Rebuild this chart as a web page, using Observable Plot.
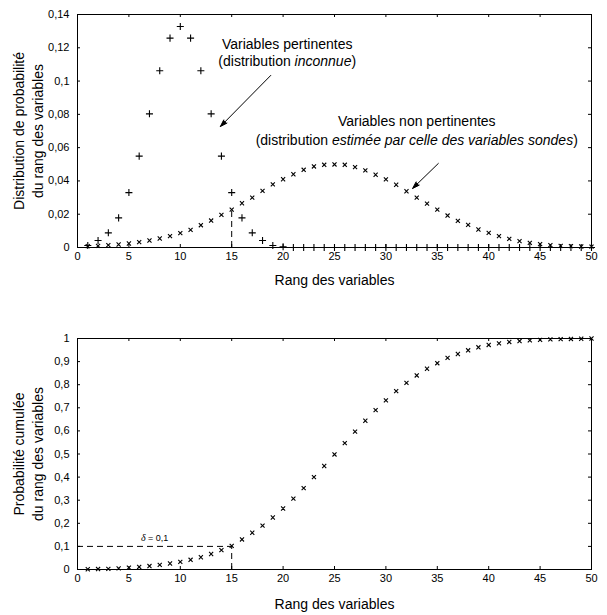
<!DOCTYPE html>
<html><head><meta charset="utf-8">
<script src="https://cdn.jsdelivr.net/npm/d3@7"></script>
<script src="https://cdn.jsdelivr.net/npm/@observablehq/plot@0.6"></script>
<style>body{margin:0;background:#fff;} #chart{width:607px;} svg{display:block;}</style>
</head><body><div id="chart"></div>
<script>
// ---- data ----
const ranks = [1,2,3,4,5,6,7,8,9,10,11,12,13,14,15,16,17,18,19,20,21,22,23,24,25,26,27,28,29,30,31,32,33,34,35,36,37,38,39,40,41,42,43,44,45,46,47,48,49,50];
const pertinent = [0.0012,0.0042,0.0088,0.0178,0.033,0.0549,0.0803,0.1062,0.1258,0.1328,0.1258,0.1062,0.0803,0.0549,0.033,0.0178,0.0088,0.0042,0.0012,0.0004,0,0,0,0,0,0,0,0,0,0,0,0,0,0,0,0,0,0,0,0,0,0,0,0,0,0,0,0,0,0];
const nonPertinent = [0.0008,0.001,0.0014,0.0018,0.0024,0.0032,0.0042,0.0054,0.0068,0.0086,0.0106,0.0134,0.0162,0.0196,0.0228,0.0266,0.030,0.034,0.0379,0.041,0.044,0.0467,0.0487,0.0497,0.0499,0.0497,0.0483,0.0463,0.0437,0.0409,0.0377,0.0338,0.030,0.0264,0.0228,0.0192,0.016,0.0136,0.0108,0.0088,0.0068,0.0052,0.0038,0.0028,0.002,0.0014,0.001,0.0008,0.0006,0.0005];
const cumulative = [0.001,0.002,0.003,0.005,0.008,0.011,0.015,0.02,0.026,0.033,0.042,0.053,0.067,0.084,0.102,0.13,0.159,0.19,0.225,0.264,0.307,0.352,0.4,0.448,0.498,0.547,0.597,0.644,0.69,0.732,0.772,0.808,0.84,0.869,0.893,0.916,0.933,0.949,0.962,0.972,0.979,0.985,0.989,0.992,0.994,0.996,0.997,0.998,0.999,1.0];
const xTicks = [0,5,10,15,20,25,30,35,40,45,50];
const yTicksTop = [0,0.02,0.04,0.06,0.08,0.1,0.12,0.14];
const yTicksBottom = [0,0.1,0.2,0.3,0.4,0.5,0.6,0.7,0.8,0.9,1];
const thresholdRank = 15;
const delta = 0.1;
const xLabel = "Rang des variables";
const yLabelTop = "Distribution de probabilité\ndu rang des variables";
const yLabelBottom = "Probabilité cumulée\ndu rang des variables";

// ---- layout ----
const font = "'Liberation Sans', Arial, Helvetica, sans-serif";
const W = 607, mL = 77, mR = 16;
const innerW = W - mL - mR;
const labelSize = 14;
const fr = v => String(+(+v).toFixed(2)).replace(".", ",");
const topRows = pertinent.map((v, i) => ({rank: ranks[i], pert: v, non: nonPertinent[i]}));
const bottomRows = cumulative.map((v, i) => ({rank: ranks[i], cum: v}));

function frameParts(yTicks, innerH, dyLabel, yLabel) {
  return [
    Plot.frame({stroke: "black", strokeWidth: 1}),
    Plot.tickX(xTicks, {x: d => d, insetTop: innerH - 3, stroke: "black"}),
    Plot.tickX(xTicks, {x: d => d, insetBottom: innerH - 3, stroke: "black"}),
    Plot.tickY(yTicks, {y: d => d, insetLeft: innerW - 3, stroke: "black"}),
    Plot.tickY(yTicks, {y: d => d, insetRight: innerW - 3, stroke: "black"}),
    Plot.axisX({ticks: xTicks, tickSize: 0, tickPadding: 5, tickFormat: d => String(d), label: null, fontSize: 11, fill: "black"}),
    Plot.axisY({ticks: yTicks, tickSize: 0, tickPadding: 8, tickFormat: fr, label: null, fontSize: 11, fill: "black"}),
    Plot.text([xLabel], {frameAnchor: "bottom", dy: dyLabel, textAnchor: "middle", lineAnchor: "middle", fontSize: labelSize, fill: "black"}),
    Plot.text([yLabel], {frameAnchor: "left", rotate: -90, dx: -50.5, textAnchor: "middle", lineAnchor: "middle", fontSize: labelSize, lineHeight: 1.36, fill: "black"})
  ];
}

const hTop = 290, mTTop = 14, mBTop = 43;
const plotTop = Plot.plot({
  width: W, height: hTop, marginLeft: mL, marginRight: mR, marginTop: mTTop, marginBottom: mBTop,
  style: {fontFamily: font, fontSize: "11px", color: "black", background: "white"},
  x: {domain: [0, 50]},
  y: {domain: [0, 0.14]},
  marks: [
    ...frameParts(yTicksTop, hTop - mTTop - mBTop, 33, yLabelTop),
    Plot.ruleX([thresholdRank], {x: d => d, y1: 0, y2: d => nonPertinent[ranks.indexOf(d)], stroke: "black", strokeDasharray: "6,4"}),
    Plot.dot(topRows, {x: "rank", y: "pert", symbol: "plus", r: 2.4, stroke: "black", strokeWidth: 1.1}),
    Plot.dot(topRows, {x: "rank", y: "non", symbol: "times", r: 2, stroke: "black", strokeWidth: 1.1}),
    Plot.text([
      {x: 20.4, y: 0.122, t: "Variables pertinentes"},
      {x: 20.4, y: 0.1115, t: "(distribution inconnue)"},
      {x: 33, y: 0.0755, t: "Variables non pertinentes"},
      {x: 33, y: 0.0640, t: "(distribution estimée par celle des variables sondes)"}
    ], {x: "x", y: "y", text: "t", fontSize: labelSize, fill: "black"}),
    Plot.arrow([
      {x1: 18.8, y1: 0.1034, x2: 13.9, y2: 0.0727},
      {x1: 35.1, y1: 0.0505, x2: 32.6, y2: 0.0355}
    ], {x1: "x1", y1: "y1", x2: "x2", y2: "y2", stroke: "black", fill: "black", strokeWidth: 1, headLength: 11, headAngle: 36})
  ]
});

const hBot = 325, mTBot = 48, mBBot = 46;
const plotBottom = Plot.plot({
  width: W, height: hBot, marginLeft: mL, marginRight: mR, marginTop: mTBot, marginBottom: mBBot,
  style: {fontFamily: font, fontSize: "11px", color: "black", background: "white"},
  x: {domain: [0, 50]},
  y: {domain: [0, 1]},
  marks: [
    ...frameParts(yTicksBottom, hBot - mTBot - mBBot, 35, yLabelBottom),
    Plot.ruleY([delta], {y: d => d, x1: 0, x2: thresholdRank, stroke: "black", strokeDasharray: "6,4"}),
    Plot.ruleX([thresholdRank], {x: d => d, y1: 0, y2: delta, stroke: "black", strokeDasharray: "6,4"}),
    Plot.dot(bottomRows, {x: "rank", y: "cum", symbol: "times", r: 2, stroke: "black", strokeWidth: 1.1}),
    Plot.text([{x: 7.5, y: 0.135, t: "δ = 0,1"}], {x: "x", y: "y", text: "t", fontSize: 9, fill: "black"})
  ]
});

const chart = document.getElementById("chart");
chart.append(plotTop, plotBottom);

// mixed italic runs
const italicRuns = {
  "(distribution inconnue)": ["(distribution ", "inconnue", ")"],
  "(distribution estimée par celle des variables sondes)": ["(distribution ", "estimée par celle des variables sondes", ")"]
};
d3.select(chart).selectAll("text").each(function () {
  const el = d3.select(this);
  const s = this.textContent;
  if (italicRuns[s] && this.children.length === 0) {
    const [a, b, c] = italicRuns[s];
    el.text(null);
    el.append("tspan").text(a);
    el.append("tspan").attr("font-style", "italic").text(b);
    el.append("tspan").text(c);
  } else if (s === "δ = 0,1" && this.children.length === 0) {
    el.text(null);
    el.append("tspan").attr("font-style", "italic").attr("font-family", "'Liberation Serif', 'DejaVu Serif', serif").attr("font-size", 10).text("δ");
    el.append("tspan").text(" = 0,1");
  }
});
</script>
</body></html>
